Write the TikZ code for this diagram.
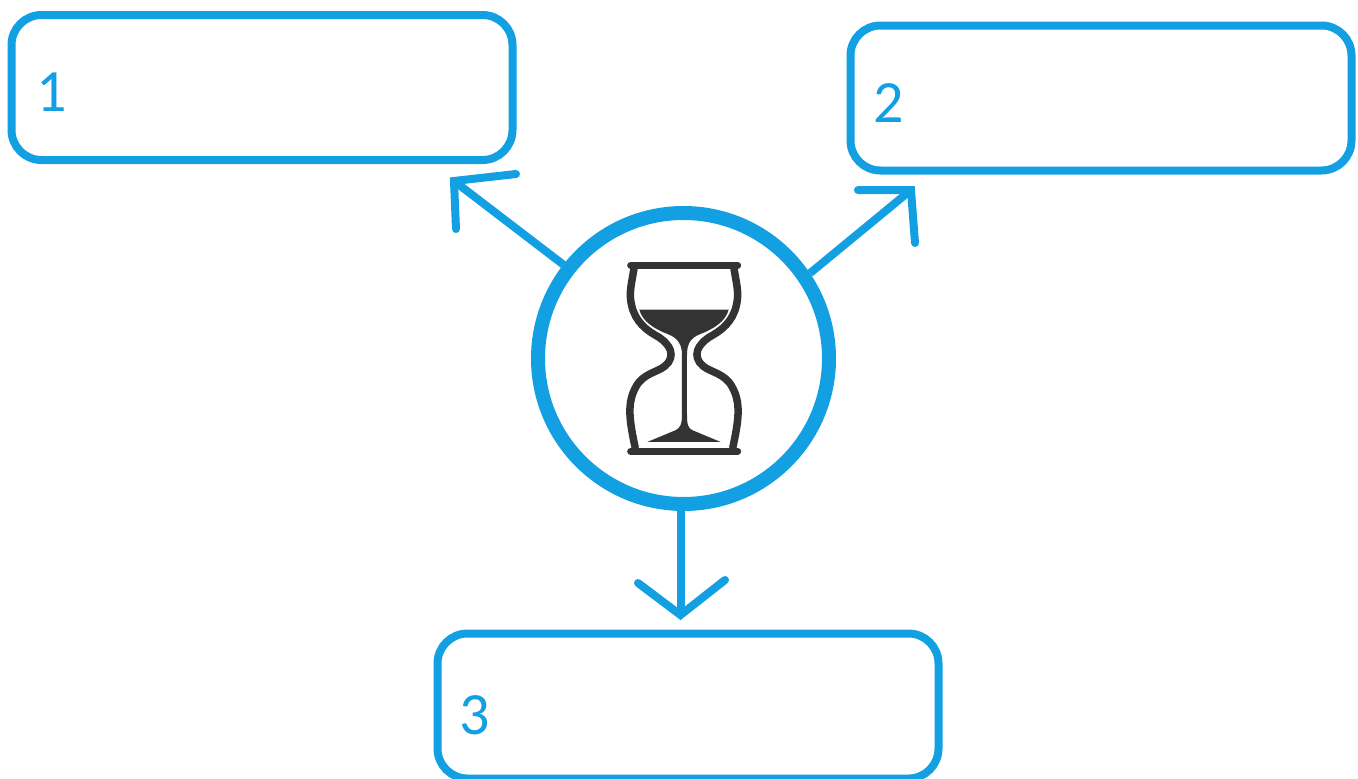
\documentclass[tikz,border=0pt]{standalone}
\usepackage{fontspec}
\setmainfont{Carlito}
\definecolor{bl}{HTML}{12A0E3}
\definecolor{ink}{HTML}{333333}
\tikzset{
  x=1pt,y=-1pt,
  box/.style={draw=bl,line width=8pt,rounded corners=30pt,minimum width=501pt,minimum height=145pt,inner sep=0pt,fill=white},
  num/.style={text=bl,font=\fontsize{60}{66}\selectfont,inner sep=0pt},
  hub/.style={circle,draw=bl,line width=14pt,minimum size=291pt,inner sep=0pt,fill=white},
  conn/.style={draw=bl,line width=8pt},
  head/.style={draw=bl,line width=8pt,line cap=round,line join=miter},
  glass/.style={draw=ink,line width=7.5pt,line cap=butt},
  bar/.style={draw=ink,line width=7pt,line cap=round},
  glassfill/.style={fill=ink,draw=none}
}
\begin{document}
\begin{tikzpicture}
\useasboundingbox (0,0) rectangle (1358,779);
\fill[white] (0,0) rectangle (1358,779);
\node[box] (b1) at (262,87.5) {};
\node[box] (b2) at (1101,98) {};
\node[box] (b3) at (688,706) {};
\node[num] (n1) at (52,92) {1};
\node[num] (n2) at (889,103) {2};
\node[num] (n3) at (475,715) {3};
\node[hub] (c) at (683.5,358.5) {};
\coordinate (t1) at (454,181);
\coordinate (t2) at (911,190);
\coordinate (t3) at (680.5,615);
\coordinate (h1a) at (456,229);
\coordinate (h1b) at (516,174);
\coordinate (h2a) at (858,190);
\coordinate (h2b) at (915,243);
\coordinate (h3a) at (638,583);
\coordinate (h3b) at (725,580);
\draw[conn] (c.142) -- (t1);
\draw[conn] (c.34) -- (t2);
\draw[conn] (t3 |- c.south) -- (t3);
\draw[head] (h1a) -- (t1) -- (h1b);
\draw[head] (h2a) -- (t2) -- (h2b);
\draw[head] (h3a) -- (t3) -- (h3b);
% hourglass
\begin{scope}[shift={(600,240)},x=0.3333pt,y=-0.3333pt]
\draw[bar] (92,76) -- (413,76);
\draw[bar] (92,634) -- (413,634);
\draw[glass] (102,85) .. controls (97,120) and (88,150) .. (92,180)
  .. controls (98,230) and (125,262) .. (165,285)
  .. controls (215,312) and (228,350) .. (195,378)
  .. controls (170,398) and (130,400) .. (108,440)
  .. controls (80,490) and (88,540) .. (106,625);
\draw[glass] (402,85) .. controls (407,120) and (416,150) .. (412,180)
  .. controls (406,230) and (379,262) .. (339,285)
  .. controls (289,312) and (276,350) .. (309,378)
  .. controls (334,398) and (374,400) .. (396,440)
  .. controls (424,490) and (416,540) .. (398,625);
\fill[glassfill] (118,209) -- (386,209)
  .. controls (377,245) and (339,268) .. (299,283)
  .. controls (269,295) and (261,315) .. (261,345)
  -- (261,525) .. controls (261,555) and (265,565) .. (278,571)
  -- (362,606) -- (142,606) -- (226,571)
  .. controls (239,565) and (246,555) .. (246,525)
  -- (246,345) .. controls (246,315) and (235,295) .. (205,283)
  .. controls (165,268) and (127,245) .. (118,209) -- cycle;
\end{scope}
\end{tikzpicture}
\end{document}
